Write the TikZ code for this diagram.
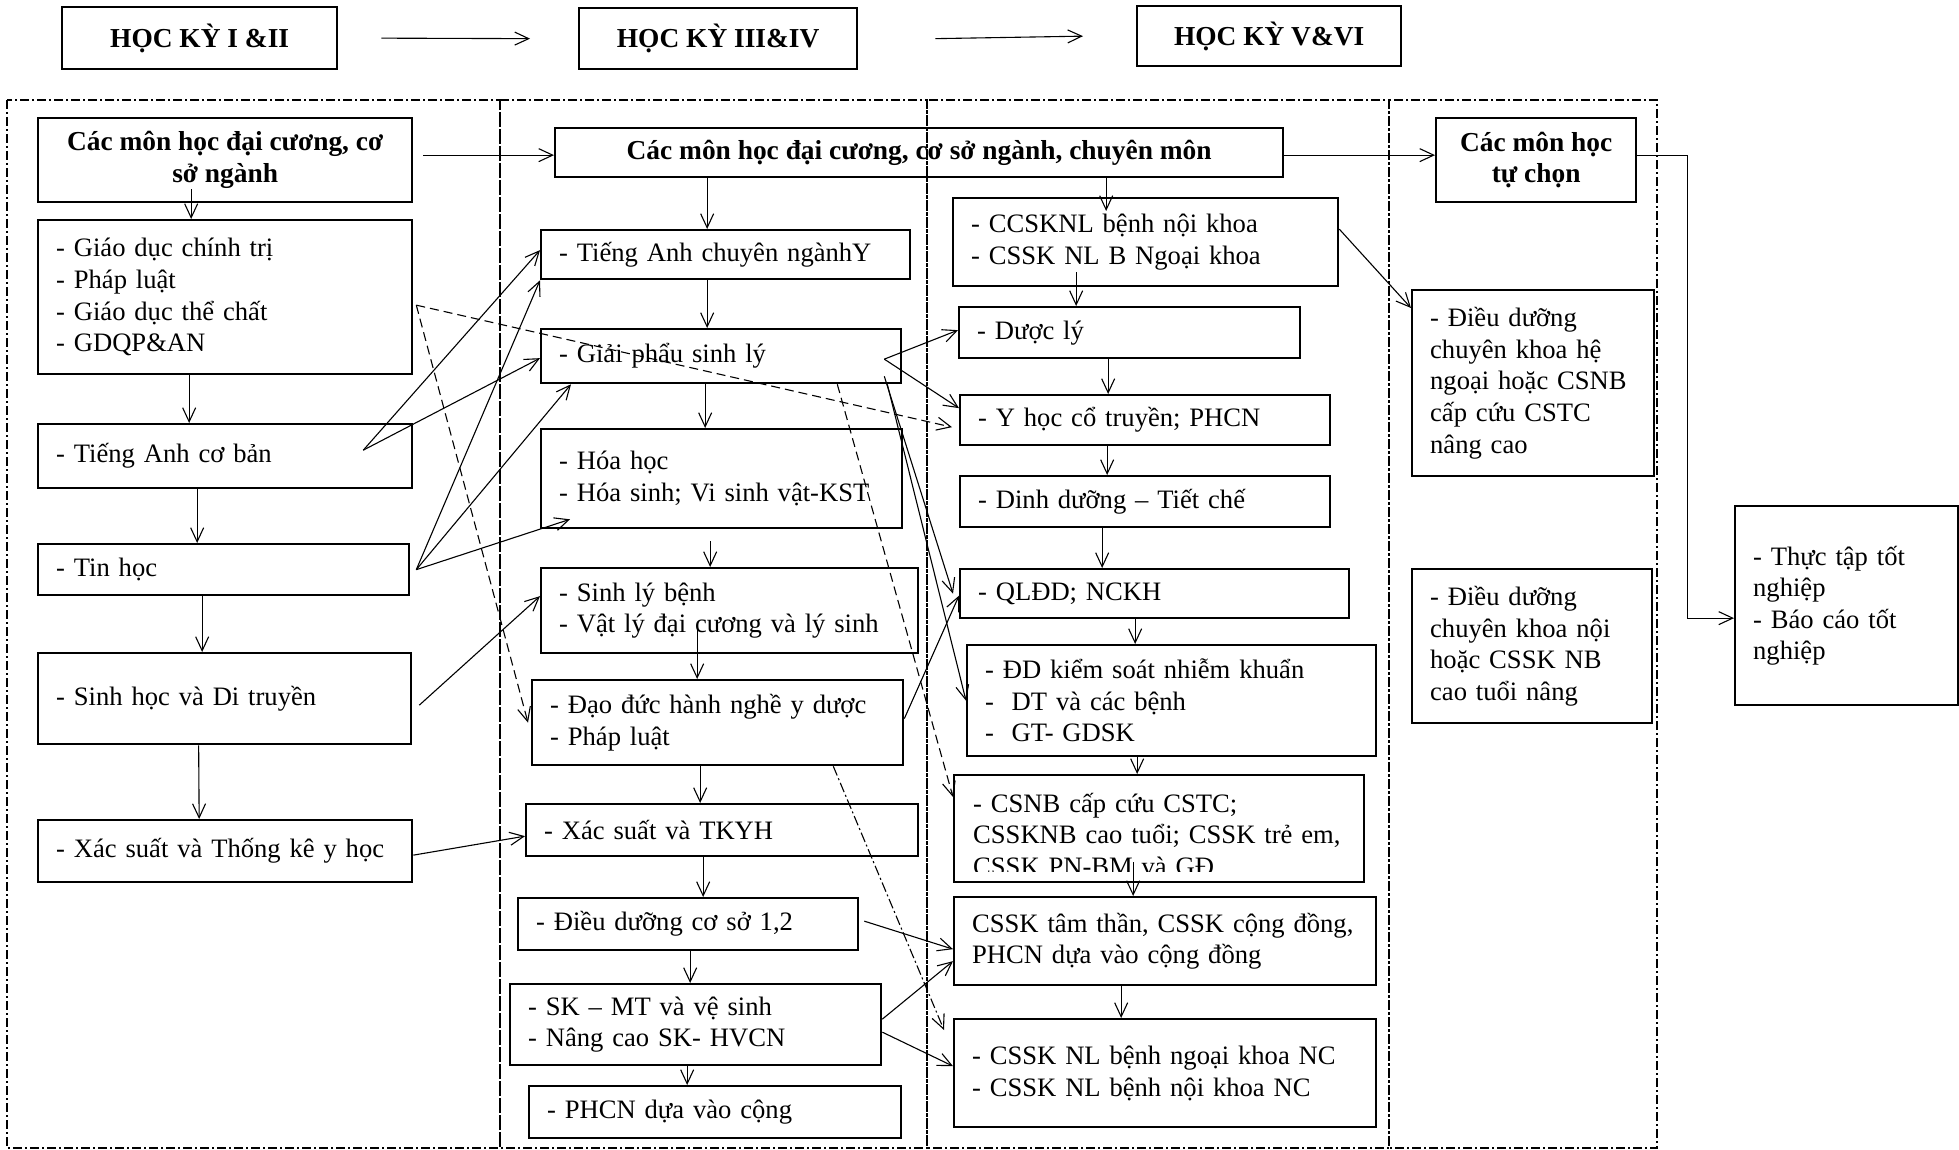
\documentclass[tikz,border=0pt]{standalone}
\usepackage{fontspec}
\setmainfont{Liberation Serif}
\usetikzlibrary{arrows.meta}
\newcommand{\diagfont}{\fontsize{26.6pt}{31.6pt}\selectfont}
\newcommand{\headfont}{\fontsize{27.4pt}{31.6pt}\selectfont\bfseries}

\begin{document}
\begin{tikzpicture}
	 [x=1pt,y=-1pt,font=\diagfont]
	\tikzstyle{box}=[rectangle,draw,line width=2.3pt,anchor=north west,inner xsep=18pt,inner ysep=0pt,align=left]
	\tikzstyle{head}=[rectangle,draw,line width=2.3pt,anchor=north west,inner sep=0pt,align=center,font=\headfont]
	\tikzstyle{arr}=[-{Straight Barb[length=14pt,width=13pt]},line width=1.1pt]
	\tikzstyle{dsh}=[arr,dash pattern=on 9pt off 5pt]
	\tikzstyle{dshdot}=[arr,dash pattern=on 10pt off 3pt on 2pt off 3pt]
	\tikzstyle{frame}=[line width=1.7pt,dash pattern=on 9pt off 3pt on 2pt off 3pt]
	\useasboundingbox (0,0) rectangle (1959,1150);
	\draw[frame] (7,100) rectangle (500,1148);
	\draw[frame] (500,100) rectangle (927,1148);
	\draw[frame] (927,100) rectangle (1389,1148);
	\draw[frame] (1389,100) rectangle (1657,1148);
	\node [head,minimum width=275pt,minimum height=62pt] (h1) at (61,6) {HỌC KỲ I \&II};
	\node [head,minimum width=278pt,minimum height=61pt] (h2) at (578,7) {HỌC KỲ III\&IV};
	\node [head,minimum width=264pt,minimum height=60pt] (h3) at (1136,5) {HỌC KỲ V\&VI};
	\draw[arr] ([xshift=43pt]h1.east) -- ([xshift=-48pt]h2.west);
	\draw[arr] ([xshift=77pt]h2.east) -- ([xshift=-53pt]h3.west);
	\node [head,minimum width=374pt,minimum height=84pt] (n0) at (37,117) {Các môn học đại cương, cơ\\sở ngành};
	\node [box,minimum width=374pt,minimum height=154pt,text width=338pt] (n1) at (37,219) {- Giáo dục chính trị\\- Pháp luật\\- Giáo dục thể chất\\- GDQP\&AN};
	\node [box,minimum width=374pt,minimum height=64pt,text width=338pt] (n2) at (37,423) {- Tiếng Anh cơ bản};
	\node [box,minimum width=371pt,minimum height=51pt,text width=335pt] (n3) at (37,543) {- Tin học};
	\node [box,minimum width=373pt,minimum height=91pt,text width=337pt] (n4) at (37,652) {- Sinh học và Di truyền};
	\node [box,minimum width=374pt,minimum height=62pt,text width=338pt] (n5) at (37,819) {- Xác suất và Thống kê y học};
	\node [head,minimum width=728pt,minimum height=49pt] (m0) at (554,127) {Các môn học đại cương, cơ sở ngành, chuyên môn};
	\node [box,minimum width=369pt,minimum height=49pt,text width=333pt] (m1) at (540,229) {- Tiếng Anh chuyên ngànhY};
	\node [box,minimum width=360pt,minimum height=54pt,text width=324pt] (m2) at (540,328) {- Giải phẩu sinh lý};
	\node [box,minimum width=361pt,minimum height=99pt,text width=325pt] (m3) at (540,428) {- Hóa học\\- Hóa sinh; Vi sinh vật-KST};
	\node [box,minimum width=377pt,minimum height=85pt,text width=341pt] (m4) at (540,567) {- Sinh lý bệnh\\- Vật lý đại cương và lý sinh};
	\node [box,minimum width=371pt,minimum height=85pt,text width=335pt] (m5) at (531,679) {- Đạo đức hành nghề y dược\\- Pháp luật};
	\node [box,minimum width=392pt,minimum height=52pt,text width=356pt] (m6) at (525,803) {- Xác suất và TKYH};
	\node [box,minimum width=340pt,minimum height=52pt,text width=304pt] (m7) at (517,897) {- Điều dưỡng cơ sở 1,2};
	\node [box,minimum width=371pt,minimum height=81pt,text width=335pt] (m8) at (509,983) {- SK -- MT và vệ sinh\\- Nâng cao SK- HVCN};
	\node [box,minimum width=372pt,minimum height=52pt,text width=336pt] (m9) at (528,1085) {- PHCN dựa vào cộng};
	\node [box,minimum width=385pt,minimum height=88pt,text width=349pt] (k0) at (952,197) {- CCSKNL bệnh nội khoa\\- CSSK NL B Ngoại khoa};
	\node [box,minimum width=341pt,minimum height=51pt,text width=305pt] (k1) at (958,306) {- Dược lý};
	\node [box,minimum width=370pt,minimum height=50pt,text width=334pt] (k2) at (959,394) {- Y học cổ truyền; PHCN};
	\node [box,minimum width=370pt,minimum height=51pt,text width=334pt] (k3) at (959,475) {- Dinh dưỡng -- Tiết chế};
	\node [box,minimum width=389pt,minimum height=49pt,text width=353pt] (k4) at (959,568) {- QLĐD; NCKH};
	\node [box,minimum width=409pt,minimum height=111pt,text width=373pt] (k5) at (966,644) {- ĐD kiểm soát nhiễm khuẩn\\-\ \ DT và các bệnh\\-\ \ GT- GDSK};
	\node [box,minimum width=410pt,minimum height=107pt] (k6) at (953,774) {};
	\begin{scope}
	\clip (k6.north west) rectangle ([yshift=12pt]k6.south east);
	\node [anchor=base west,inner sep=0pt,text width=390pt,align=left] (k6t) at ([xshift=20pt,yshift=-38pt]k6.north west) {- CSNB cấp cứu CSTC;\\CSSKNB cao tuổi; CSSK trẻ em,\\CSSK PN-BM và GĐ};
	\end{scope}
	\node [box,minimum width=422pt,minimum height=88pt,text width=386pt] (k7) at (953,896) {CSSK tâm thần, CSSK cộng đồng,\\PHCN dựa vào cộng đồng};
	\node [box,minimum width=422pt,minimum height=108pt,text width=386pt] (k8) at (953,1018) {- CSSK NL bệnh ngoại khoa NC\\- CSSK NL bệnh nội khoa NC};
	\node [head,minimum width=200pt,minimum height=84pt] (t0) at (1435,117) {Các môn học\\tự chọn};
	\node [box,minimum width=242pt,minimum height=186pt,text width=206pt] (t1) at (1411,289) {- Điều dưỡng\\chuyên khoa hệ\\ngoại hoặc CSNB\\cấp cứu CSTC\\nâng cao};
	\node [box,minimum width=240pt,minimum height=154pt,text width=204pt] (t2) at (1411,568) {- Điều dưỡng\\chuyên khoa nội\\hoặc CSSK NB\\cao tuổi nâng};
	\node [box,minimum width=223pt,minimum height=199pt,text width=187pt] (r0) at (1734,505) {- Thực tập tốt\\nghiệp\\- Báo cáo tốt\\nghiệp};
	\draw[arr] ([xshift=-34pt,yshift=14pt]n0.south) -- ([xshift=-34pt]n1.north);
	\draw[arr] ([xshift=-36pt]n1.south) -- ([xshift=-36pt]n2.north);
	\draw[arr] ([xshift=-28pt]n2.south) -- ([xshift=-26.5pt]n3.north);
	\draw[arr] ([xshift=-21.5pt]n3.south) -- ([xshift=-22.5pt]n4.north);
	\draw[arr] ([xshift=-26pt]n4.south) -- ([xshift=-26pt]n5.north);
	\draw[arr] ([xshift=10pt,yshift=5pt]n0.east) -- ([yshift=-2.5pt]m0.west);
	\draw[arr] ([xshift=-50pt,yshift=6pt]n2.east) -- ([yshift=4.5pt]m1.west);
	\draw[arr] ([xshift=-50pt,yshift=6pt]n2.east) -- ([yshift=-2pt]m2.west);
	\draw[arr] ([xshift=6pt]n3.east) -- (m1.south west);
	\draw[arr] ([xshift=6pt]n3.east) -- ([xshift=31pt]m2.south west);
	\draw[arr] ([xshift=6pt]n3.east) -- ([xshift=30pt,yshift=10pt]m3.south west);
	\draw[arr] ([xshift=7pt,yshift=-6.5pt]n4.east) -- ([yshift=14.5pt]m4.west);
	\draw[arr] ([yshift=-4pt]n5.east) -- ([yshift=-6pt]m6.west);
	\draw[dsh] ([xshift=3pt,yshift=-8pt]n1.east) -- ([xshift=-3pt]m5.west);
	\draw[dsh] ([xshift=3pt,yshift=-8pt]n1.east) -- ([xshift=-7pt,yshift=-7pt]k2.west);
	\draw[arr] ([xshift=-212pt]m0.south) -- ([xshift=-18.5pt]m1.north);
	\draw[arr] ([xshift=-18.5pt]m1.south) -- ([xshift=-14pt]m2.north);
	\draw[arr] ([xshift=-16pt]m2.south) -- ([xshift=-16.5pt]m3.north);
	\draw[arr] ([xshift=-11.5pt,yshift=-12pt]m3.south) -- ([xshift=-19.5pt]m4.north);
	\draw[arr] ([xshift=-32.5pt,yshift=27pt]m4.south) -- ([xshift=-20.5pt]m5.north);
	\draw[arr] ([xshift=-17.5pt]m5.south) -- ([xshift=-22pt]m6.north);
	\draw[arr] ([xshift=-19pt]m6.south) -- ([xshift=15pt]m7.north);
	\draw[arr] ([xshift=2pt]m7.south) -- ([xshift=-5.5pt]m8.north);
	\draw[arr] ([xshift=-8.5pt]m8.south) -- ([xshift=-28pt]m9.north);
	\draw[arr] ([xshift=-18pt,yshift=-3pt]m2.east) -- ([yshift=2.5pt]k1.west);
	\draw[arr] ([xshift=-18pt,yshift=-3pt]m2.east) -- ([yshift=12pt]k2.west);
	\draw[arr] ([xshift=-18pt,yshift=8pt]m2.south east) -- ([xshift=-6pt]k4.west);
	\draw[arr] ([xshift=-15pt]m2.south east) -- (k5.west);
	\draw[dsh] ([xshift=-65pt]m2.south east) -- ([yshift=-23pt]k6.north west);
	\draw[arr] ([yshift=4pt]m5.east) -- ([yshift=-2pt]k4.west);
	\draw[dshdot] ([xshift=-71pt]m5.south east) -- ([xshift=-9pt,yshift=-12pt]k8.north west);
	\draw[arr] ([xshift=5pt,yshift=3pt]m7.east) -- ([yshift=-8pt]k7.west);
	\draw[arr] ([yshift=5.5pt]m8.east) -- ([yshift=-20pt]k7.west);
	\draw[arr] ([yshift=-7.5pt]m8.east) -- ([yshift=7pt]k8.west);
	\draw[arr] ([xshift=187pt]m0.south) -- ([xshift=-39.5pt,yshift=-14pt]k0.north);
	\draw[arr] ([xshift=-69.5pt,yshift=15pt]k0.south) -- ([xshift=-53.5pt]k1.north);
	\draw[arr] ([xshift=-21.5pt]k1.south) -- ([xshift=-37pt]k2.north);
	\draw[arr] ([xshift=-38pt]k2.south) -- ([xshift=-38pt]k3.north);
	\draw[arr] ([xshift=-43pt]k3.south) -- ([xshift=-52.5pt]k4.north);
	\draw[arr] ([xshift=-19.5pt]k4.south) -- ([xshift=-36.5pt]k5.north);
	\draw[arr] ([xshift=-34.5pt]k5.south) -- ([xshift=-22pt]k6.north);
	\draw[arr] ([xshift=-26pt,yshift=21pt]k6.south) -- ([xshift=-32pt]k7.north);
	\draw[arr] ([xshift=-44pt]k7.south) -- ([xshift=-44pt]k8.north);
	\draw[arr] ([yshift=13pt]k0.east) -- ([yshift=-19pt]t1.north west);
	\draw[arr] ([yshift=-2.5pt]m0.east) -- ([yshift=5pt]t0.west);
	\draw[arr] ([yshift=5pt]t0.east) -- ++(50,0) |- ([yshift=-12.5pt]r0.west);
	\end{tikzpicture}
\end{document}
